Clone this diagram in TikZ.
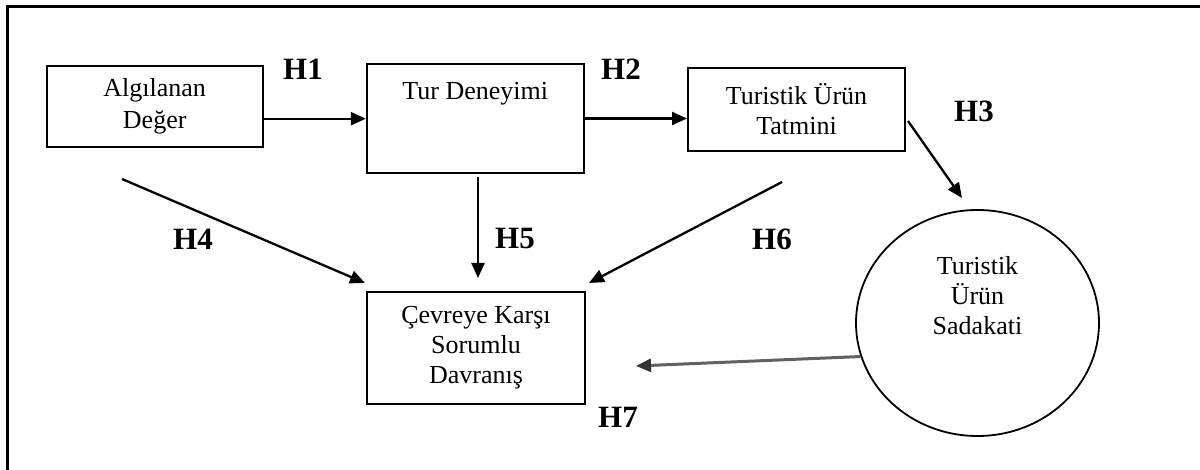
\documentclass[tikz,border=0pt]{standalone}
\usepackage{fontspec}
\setmainfont{Liberation Serif}
\usetikzlibrary{arrows.meta,shapes.geometric}
\tikzset{
  boxnode/.style={draw, line width=2pt, inner sep=0pt, align=center,
    font=\fontsize{26}{30}\selectfont},
  txt/.style={inner sep=0pt, align=center, font=\fontsize{26}{30}\selectfont},
  hlab/.style={inner sep=0pt, font=\fontsize{31}{31}\selectfont\bfseries},
  arr/.style={line width=2.3pt, -{Triangle[length=15pt,width=13pt]}},
  grayarr/.style={line width=3pt, draw=black!62, -{Triangle[length=15pt,width=13pt,color=black!80]}},
}
\begin{document}
\begin{tikzpicture}[x=1pt,y=-1pt]
\clip (0,0) rectangle (1200,470);
\fill[white] (0,0) rectangle (1200,470);
% outer frame (right and bottom sides lie outside the picture)
\draw[line width=3pt] (7,480) -- (7,7) -- (1210,7);

% boxes
\node[boxnode, minimum width=216pt, minimum height=81pt] (A) at (154.7,106.2) {\raisebox{-3pt}{\shortstack{Algılanan\\[5pt]Değer}}};
\node[boxnode, minimum width=217pt, minimum height=109pt] (B) at (475.3,118.5) {};
\node[txt] (Bt) at (475.3,94) {Tur Deneyimi};
\node[boxnode, minimum width=217pt, minimum height=83pt] (C) at (796.5,109.5) {Turistik Ürün\\Tatmini};
\node[boxnode, minimum width=218pt, minimum height=112pt] (D) at (476,348) {\raisebox{-2pt}{\parbox{210pt}{\centering Çevreye Karşı\\Sorumlu\\Davranış}}};
\node[draw, line width=1.8pt, ellipse, minimum width=243pt, minimum height=226pt, inner sep=0pt] (E) at (977.5,323) {};
\node[txt] (Et) at (977.5,296) {Turistik\\Ürün\\Sadakati};

% free ends
\coordinate (h3s) at (908,121);
\coordinate (h3e) at (962,198);
\coordinate (h4s) at (122,179);
\coordinate (h4e) at (365,283);
\coordinate (h5s) at (478,177);
\coordinate (h5e) at (478,278);
\coordinate (h6s) at (782,182);
\coordinate (h6e) at (589,283);
\coordinate (h7e) at (636,366);

% connectors
\draw[arr] ([yshift=-12.5pt]A.east) -- ([yshift=-12.5pt]A.east -| B.west);
\draw[arr] (B.east) -- (B.east -| C.west);
\draw[arr] (h3s) -- (h3e);
\draw[arr] (h4s) -- (h4e);
\draw[arr] (h5s) -- (h5e);
\draw[arr] (h6s) -- (h6e);
\draw[grayarr] (E.196) -- (h7e);

% labels
\node[hlab] (H1) at (303,69) {H1};
\node[hlab] (H2) at (621,69) {H2};
\node[hlab] (H3) at (974,111) {H3};
\node[hlab] (H4) at (193,239) {H4};
\node[hlab] (H5) at (515,239) {H5};
\node[hlab] (H6) at (772,239) {H6};
\node[hlab] (H7) at (618,417) {H7};
\end{tikzpicture}
\end{document}
